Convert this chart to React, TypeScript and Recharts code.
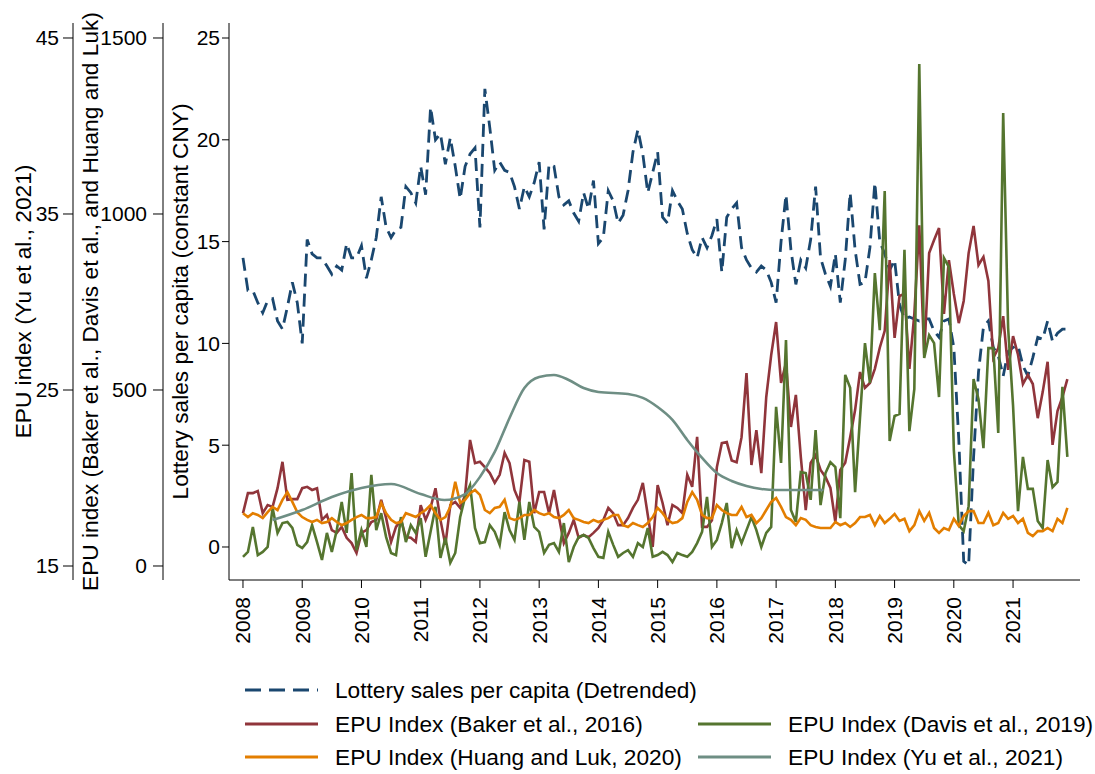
import { LineChart, Line, XAxis, YAxis } from 'recharts';

const FONT = '"Liberation Sans", Arial, Helvetica, sans-serif';

const NAVY = '#1a476f';
const MAROON = '#90353b';
const GREEN = '#55752f';
const ORANGE = '#e37e00';
const TEAL = '#6e8e84';

const yearTicks = [2008, 2009, 2010, 2011, 2012, 2013, 2014, 2015, 2016, 2017, 2018, 2019, 2020, 2021];
const lotteryTicks = [0, 5, 10, 15, 20, 25];
const epuTicks = [0, 500, 1000, 1500];
const yuTicks = [15, 25, 35, 45];

// monthly, Jan 2008 - Dec 2021 (one row per year)
const lotterySales = [
    14.2, 12.6, 12.6, 12.0, 11.5, 12.1, 12.2, 11.1, 10.7, 11.8, 13.0, 12.0,
    10.0, 15.1, 14.4, 14.2, 14.2, 13.8, 13.4, 13.8, 13.6, 14.9, 14.2, 14.2,
    14.8, 13.2, 14.1, 15.2, 17.2, 15.7, 15.2, 15.6, 15.7, 17.7, 17.4, 16.9,
    18.7, 17.3, 21.6, 20.0, 20.3, 18.8, 20.1, 18.7, 17.1, 18.7, 19.3, 19.6,
    15.7, 22.5, 20.6, 18.5, 18.9, 18.5, 18.4, 17.7, 16.6, 17.7, 17.2, 17.9,
    18.9, 15.6, 18.8, 18.7, 17.2, 16.8, 17.0, 16.4, 16.0, 17.4, 16.6, 18.0,
    14.9, 15.2, 17.5, 17.0, 15.9, 16.3, 17.5, 19.4, 20.5, 19.3, 17.4, 18.4,
    19.4, 16.2, 15.9, 17.5, 17.0, 16.6, 15.4, 14.6, 14.2, 15.2, 14.7, 15.3,
    16.1, 13.5, 16.2, 16.6, 16.9, 14.7, 14.1, 13.7, 13.5, 13.8, 13.6, 13.0,
    12.0, 15.0, 17.3, 14.6, 12.9, 14.1, 13.7, 15.1, 17.7, 14.2, 13.4, 12.8,
    14.4, 12.0, 14.1, 17.4, 14.6, 12.9, 13.0, 14.7, 17.9, 15.0, 14.4, 13.6,
    14.1, 11.9, 11.2, 11.3, 11.2, 11.1, 11.2, 11.2, 10.6, 10.3, 11.1, 11.2,
    9.8, 5.3, -0.7, -0.9, 4.4, 8.6, 10.8, 11.1, 9.8, 9.4, 8.4, 9.6,
    9.8, 9.9, 8.9, 8.4, 9.3, 10.3, 10.2, 11.1, 10.1, 10.5, 10.7, 10.7,
];

const epuBaker = [
    150, 207, 207, 213, 150, 173, 168, 221, 296, 188, 190, 190,
    221, 225, 216, 221, 131, 145, 102, 94, 111, 80, 65, 37,
    94, 102, 125, 131, 188, 136, 68, 111, 131, 82, 80, 68,
    173, 131, 165, 221, 131, 60, 173, 182, 165, 202, 358, 292,
    296, 281, 264, 236, 259, 321, 292, 216, 182, 301, 296, 150,
    210, 210, 150, 216, 139, 65, 94, 131, 80, 88, 82, 94,
    108, 131, 165, 150, 116, 116, 136, 165, 188, 236, 145, 54,
    230, 179, 116, 173, 165, 150, 259, 225, 367, 111, 111, 130,
    281, 349, 352, 300, 295, 366, 548, 287, 386, 264, 480, 599,
    693, 520, 577, 395, 486, 310, 159, 293, 315, 273, 253, 222,
    125, 273, 293, 366, 443, 551, 506, 520, 560, 620, 668, 869,
    648, 767, 773, 560, 716, 968, 600, 889, 926, 960, 716, 869,
    773, 690, 753, 889, 966, 855, 878, 810, 591, 619, 710, 557,
    653, 600, 517, 543, 517, 420, 494, 580, 344, 440, 480, 531,
];

const epuDavis = [
    26, 40, 111, 31, 40, 54, 165, 94, 122, 125, 108, 60,
    51, 68, 116, 68, 17, 94, 40, 102, 182, 94, 264, 45,
    102, 54, 259, 102, 150, 82, 37, 31, 139, 68, 116, 94,
    136, 26, 97, 168, 23, 80, 9, 37, 139, 196, 230, 108,
    65, 68, 116, 97, 60, 153, 102, 74, 182, 74, 182, 111,
    97, 37, 60, 65, 40, 122, 11, 54, 82, 88, 80, 51,
    26, 23, 97, 60, 26, 37, 45, 26, 65, 54, 108, 26,
    31, 40, 31, 11, 37, 31, 26, 40, 65, 97, 196, 54,
    74, 122, 179, 51, 102, 65, 102, 139, 102, 54, 94, 111,
    452, 293, 642, 159, 125, 267, 264, 188, 386, 173, 264, 295,
    281, 136, 543, 506, 210, 423, 633, 520, 832, 670, 1065, 355,
    426, 432, 898, 383, 503, 1426, 591, 656, 633, 480, 875, 849,
    330, 116, 99, 170, 531, 474, 335, 619, 619, 378, 1287, 676,
    455, 156, 310, 219, 219, 128, 108, 301, 224, 239, 509, 310,
];

const epuHuang = [
    150, 139, 150, 145, 136, 153, 168, 159, 188, 210, 182, 153,
    139, 131, 125, 131, 122, 125, 136, 125, 116, 122, 131, 139,
    145, 136, 136, 139, 179, 150, 131, 122, 125, 150, 145, 139,
    150, 159, 173, 150, 131, 139, 168, 239, 179, 188, 207, 216,
    202, 159, 150, 165, 168, 188, 136, 131, 136, 145, 145, 159,
    150, 145, 150, 139, 136, 145, 159, 136, 131, 125, 122, 131,
    125, 131, 136, 145, 145, 116, 111, 122, 116, 111, 122, 139,
    165, 150, 131, 122, 125, 136, 182, 210, 188, 145, 136, 136,
    173, 159, 150, 145, 145, 168, 139, 145, 122, 136, 159, 182,
    193, 168, 139, 131, 116, 136, 131, 116, 111, 108, 108, 108,
    125, 116, 122, 111, 122, 139, 139, 145, 116, 142, 122, 134,
    148, 128, 134, 99, 116, 156, 128, 151, 108, 94, 108, 102,
    134, 114, 142, 156, 156, 122, 122, 151, 116, 122, 151, 134,
    142, 122, 134, 94, 85, 99, 99, 108, 99, 134, 122, 165,
];

// Yu et al. series is a smooth curve, read at these dates
const yuDates = [
    2008.5, 2009.0, 2009.5, 2010.0, 2010.5, 2011.0, 2011.4, 2011.75, 2012.0, 2012.25,
    2012.5, 2012.75, 2013.0, 2013.25, 2013.5, 2013.75, 2014.0, 2014.5, 2014.75, 2015.0,
    2015.25, 2015.5, 2015.75, 2016.0, 2016.25, 2016.5, 2016.75, 2017.0, 2017.5, 2017.8,
];
const epuYu = [
    17.61, 18.18, 18.92, 19.43, 19.66, 19.09, 18.75, 19.09, 20.06, 21.48,
    23.41, 25.11, 25.74, 25.85, 25.57, 25.11, 24.89, 24.77, 24.55, 24.03,
    23.3, 22.16, 21.14, 20.28, 19.83, 19.55, 19.38, 19.32, 19.32, 19.32,
];

const rows = lotterySales.map((v, i) => ({
    t: 2008 + i / 12,
    lottery: v,
    baker: epuBaker[i],
    davis: epuDavis[i],
    huang: epuHuang[i],
}));
const yuRows = yuDates.map((t, i) => ({ t, yu: epuYu[i] }));

const legendItems = [
    { label: 'Lottery sales per capita (Detrended)', color: NAVY, dashed: true, x: 245, y: 30 },
    { label: 'EPU Index (Baker et al., 2016)', color: MAROON, dashed: false, x: 245, y: 64 },
    { label: 'EPU Index (Davis et al., 2019)', color: GREEN, dashed: false, x: 698, y: 64 },
    { label: 'EPU Index (Huang and Luk, 2020)', color: ORANGE, dashed: false, x: 245, y: 97 },
    { label: 'EPU Index (Yu et al., 2021)', color: TEAL, dashed: false, x: 698, y: 97 },
];

function YearTick({ x, y, payload }: any) {
    return (
        <text
            x={x}
            y={y}
            transform={`rotate(-90 ${x} ${y})`}
            textAnchor="end"
            dy="0.35em"
            fontSize={21}
            fill="#000"
        >
            {payload.value}
        </text>
    );
}

const tickStyle = { fontSize: 21, fill: '#000' };
const titleStyle = { textAnchor: 'middle' as const, fontSize: 22.7, fill: '#000' };

// recharts stacks left axes by id order: first id sits next to the plot
export default function App() {
    return (
        <div
            style={{
                position: 'absolute',
                left: 0,
                top: 0,
                width: 1095,
                height: 774,
                background: '#fff',
                fontFamily: FONT,
            }}
        >
            <LineChart
                width={1095}
                height={650}
                data={rows}
                margin={{ top: 23, right: 15, left: 0, bottom: 0 }}
            >
                <XAxis
                    dataKey="t"
                    type="number"
                    domain={[2007.764, 2022.13]}
                    ticks={yearTicks}
                    allowDataOverflow
                    height={70}
                    tickSize={8}
                    tickMargin={9}
                    tick={<YearTick />}
                    stroke="#000"
                />
                <YAxis
                    yAxisId="aLottery"
                    orientation="left"
                    width={66}
                    domain={[-1.621, 25.737]}
                    ticks={lotteryTicks}
                    allowDataOverflow
                    tickSize={7}
                    tickMargin={2}
                    tick={tickStyle}
                    stroke="#000"
                    label={{
                        value: 'Lottery sales per capita (constant CNY)',
                        angle: -90,
                        position: 'insideLeft',
                        offset: 17,
                        style: titleStyle,
                    }}
                />
                <YAxis
                    yAxisId="bEpu"
                    orientation="left"
                    width={90}
                    domain={[-39.8, 1542.6]}
                    ticks={epuTicks}
                    allowDataOverflow
                    tickSize={10}
                    tickMargin={6}
                    tick={tickStyle}
                    stroke="#000"
                    label={{
                        value: 'EPU index (Baker et al., Davis et al., and Huang and Luk)',
                        angle: -90,
                        position: 'insideLeft',
                        offset: 17,
                        style: titleStyle,
                    }}
                />
                <YAxis
                    yAxisId="cYu"
                    orientation="left"
                    width={73}
                    domain={[14.205, 45.852]}
                    ticks={yuTicks}
                    allowDataOverflow
                    tickSize={10}
                    tickMargin={4}
                    tick={tickStyle}
                    stroke="#000"
                    label={{
                        value: 'EPU index (Yu et al., 2021)',
                        angle: -90,
                        position: 'insideLeft',
                        offset: 23,
                        style: titleStyle,
                    }}
                />
                <Line
                    yAxisId="aLottery"
                    dataKey="lottery"
                    type="linear"
                    stroke={NAVY}
                    strokeWidth={2.8}
                    strokeDasharray="13 7"
                    dot={false}
                    isAnimationActive={false}
                />
                <Line
                    yAxisId="bEpu"
                    dataKey="baker"
                    type="linear"
                    stroke={MAROON}
                    strokeWidth={2.6}
                    dot={false}
                    isAnimationActive={false}
                />
                <Line
                    yAxisId="bEpu"
                    dataKey="davis"
                    type="linear"
                    stroke={GREEN}
                    strokeWidth={2.6}
                    dot={false}
                    isAnimationActive={false}
                />
                <Line
                    yAxisId="bEpu"
                    dataKey="huang"
                    type="linear"
                    stroke={ORANGE}
                    strokeWidth={2.6}
                    dot={false}
                    isAnimationActive={false}
                />
                <Line
                    yAxisId="cYu"
                    data={yuRows}
                    dataKey="yu"
                    type="monotone"
                    stroke={TEAL}
                    strokeWidth={2.6}
                    dot={false}
                    isAnimationActive={false}
                />
            </LineChart>
            <svg
                width={1095}
                height={114}
                style={{ position: 'absolute', left: 0, top: 660 }}
            >
                {legendItems.map((item) => (
                    <g key={item.label}>
                        <line
                            x1={item.x}
                            x2={item.x + 73}
                            y1={item.y}
                            y2={item.y}
                            stroke={item.color}
                            strokeWidth={3}
                            strokeDasharray={item.dashed ? '16 8' : undefined}
                        />
                        <text
                            x={item.x + 90}
                            y={item.y}
                            dy="0.35em"
                            fontSize={22.7}
                            fill="#000"
                        >
                            {item.label}
                        </text>
                    </g>
                ))}
            </svg>
        </div>
    );
}
